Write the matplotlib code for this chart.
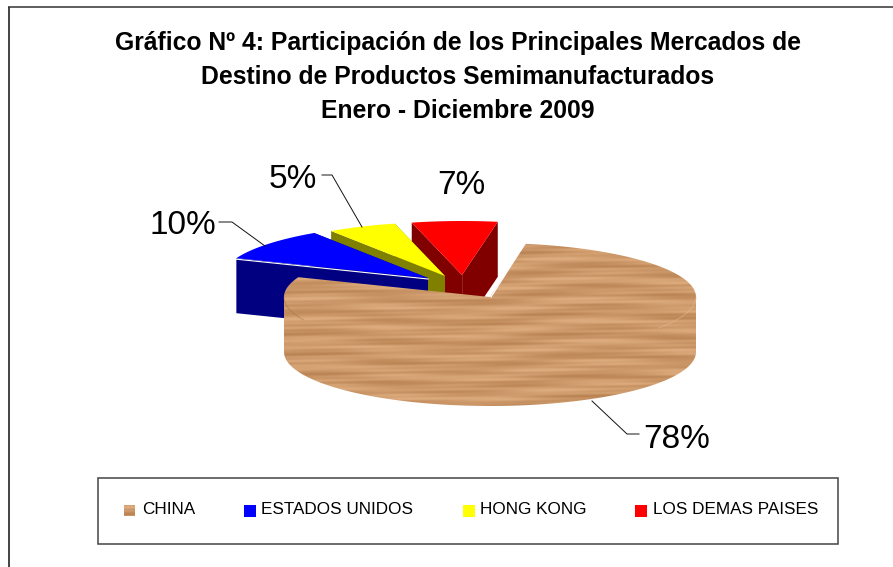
import numpy as np
import matplotlib
matplotlib.use("Agg")
import matplotlib.pyplot as plt
from matplotlib.patches import Polygon, Rectangle

categories = ["CHINA", "ESTADOS UNIDOS", "HONG KONG", "LOS DEMAS PAISES"]
shares = [78.2, 9.7, 5.4, 6.7]
share_labels = ["78%", "10%", "5%", "7%"]
title_lines = ["Gráfico Nº 4: Participación de los Principales Mercados de",
               "Destino de Productos Semimanufacturados",
               "Enero - Diciembre 2009"]

top_colors = [None, "#0000FF", "#FFFF00", "#FF0000"]
wall_colors = [None, "#000080", "#808000", "#800000"]

plt.rcParams["font.family"] = ["Liberation Sans", "DejaVu Sans"]
fig = plt.figure(figsize=(8.93, 5.67), dpi=100, facecolor="white")
ax = fig.add_axes([0, 0, 1, 1])
ax.set_xlim(0, 893)
ax.set_ylim(567, 0)
ax.axis("off")

# outer chart frame (only left and top are visible)
ax.plot([8.5, 8.5], [567, 7], color="#111111", lw=1.1, solid_capstyle="butt")
ax.plot([8, 893], [7, 7], color="#333333", lw=1.1, solid_capstyle="butt")

# title
for line, y in zip(title_lines, [43, 77, 111]):
    ax.text(458, y, line, ha="center", va="center", fontsize=17.8,
            fontweight="bold", color="black")

# pie geometry
RX, RY, DEPTH = 206.0, 54.0, 55.0
START = 10.0
centers = [(490, 297), (428, 278), (445, 276), (462, 275)]
total = sum(shares)
edges = START + np.concatenate([[0], np.cumsum(shares)]) * 360.0 / total


def arc(c, a0, a1, dz=0.0, n=80):
    t = np.radians(np.linspace(a0, a1, n))
    return np.column_stack([c[0] + RX * np.sin(t), c[1] - RY * np.cos(t) + dz])


def wood(x0, x1, y0, y1, clip=None, zorder=3):
    ny, nx = int(y1 - y0), int(x1 - x0)
    yy, xx = np.mgrid[0:ny, 0:nx]
    v = (np.sin(yy * 0.62 + 1.5 * np.sin(xx * 0.012)) * 0.45
         + np.sin(yy * 1.31 + xx * 0.006) * 0.22
         + np.sin(yy * 0.29 + 2 * np.sin(xx * 0.021 + 1)) * 0.45)
    streak = np.sin(xx * 0.045 + yy * 0.9) * np.sin(yy * 0.62)
    v = np.clip(v + 0.35 * streak, -1.2, 1.0)
    base = np.array([205, 153, 106], float)
    img = base[None, None, :] + v[..., None] * np.array([15, 17, 18], float)
    im = ax.imshow(np.clip(img, 0, 255).astype(np.uint8), extent=(x0, x1, y1, y0),
                   aspect="auto", zorder=zorder, interpolation="bilinear")
    if clip is not None:
        im.set_clip_path(clip)
    return im


# exploded slices, back to front
for i in (3, 2, 1):
    c = centers[i]
    a0, a1 = edges[i], edges[i + 1]
    top = arc(c, a0, a1)
    p0, p1 = top[0], top[-1]
    vx = np.array(c, float)
    d = np.array([0, DEPTH])
    z = {3: 1.0, 2: 1.2, 1: 1.4}[i]
    ax.add_patch(Polygon([p0, vx, vx + d, p0 + d], fc=wall_colors[i], ec="none", zorder=z))
    ax.add_patch(Polygon([p1, vx, vx + d, p1 + d], fc=wall_colors[i], ec="none", zorder=z))
    ax.add_patch(Polygon(np.vstack([[vx], top]), fc=top_colors[i], ec="none", zorder=z + 0.05))
    if i == 3:
        ax.plot([vx[0], vx[0]], [vx[1], vx[1] + DEPTH], color="#A03030", lw=0.5, zorder=z + 0.02)
    if i == 1:
        ax.plot([p0[0], vx[0]], [p0[1] + 1, vx[1] + 1], color="white", lw=0.8, zorder=z + 0.06)

# main wood slice
c = centers[0]
a0, a1 = edges[0], edges[1]
outline = np.vstack([[c], arc(c, a0, 90), arc(c, 90, 270, DEPTH), arc(c, 270, a1)])
clip_patch = Polygon(outline, transform=ax.transData, fc="none", ec="none")
ax.add_patch(clip_patch)
wood(275, 705, 235, 415, clip=clip_patch)
ax.plot(*arc(c, 90, 125).T, color="#E2B88C", lw=0.7, alpha=0.6, zorder=3.2)
ax.plot(*arc(c, 245, 270).T, color="#9C6C42", lw=0.6, alpha=0.5, zorder=3.2)
tip = arc(c, a0, a0, n=1)[0]
ax.plot([c[0] + 1, tip[0] - 1], [c[1], tip[1]], color="white", lw=0.9, zorder=3.3)

# data labels and leaders
label_pos = [(677, 439), (183, 226), (293, 179), (461, 186)]
for lab, (x, y) in zip(share_labels, label_pos):
    ax.text(x, y, lab, ha="center", va="center", fontsize=24, color="black", zorder=5)
leaders = [([592, 627, 639], [401, 434, 434]),
           ([265, 232, 219], [246, 222, 222]),
           ([362, 332, 322], [227, 175, 175])]
for lx, ly in leaders:
    ax.plot(lx, ly, color="#111111", lw=0.7, zorder=5)

# legend
ax.add_patch(Rectangle((97.5, 478), 740.5, 66, fc="white", ec="#444444", lw=1.1, zorder=4))
swatch_x = [124, 244, 463, 635]
text_x = [142, 261, 480, 653]
for i, name in enumerate(categories):
    if i == 0:
        wood(swatch_x[i], swatch_x[i] + 11, 505, 516, zorder=5)
    else:
        ax.add_patch(Rectangle((swatch_x[i], 505), 12, 12, fc=top_colors[i], ec="none", zorder=5))
    ax.text(text_x[i], 509, name, ha="left", va="center", fontsize=12.3, color="black", zorder=5)

ax.set_xlim(0, 893)
ax.set_ylim(567, 0)
fig.savefig("out.png", dpi=100)
